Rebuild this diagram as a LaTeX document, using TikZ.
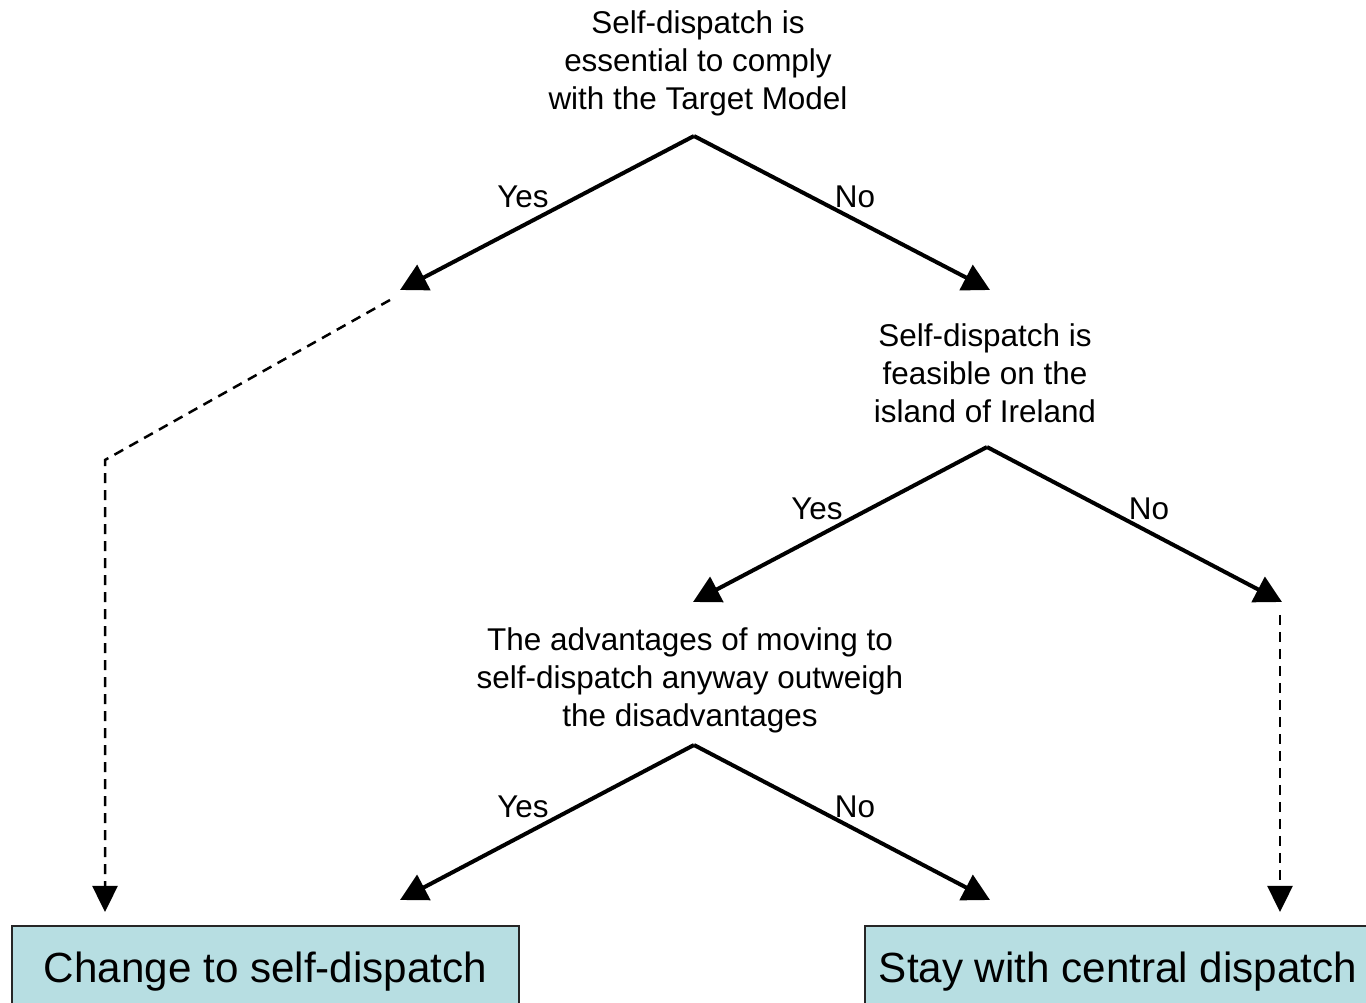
\documentclass[tikz,border=0pt]{standalone}
\usepackage{fontspec}
\setmainfont{Liberation Sans}
\usetikzlibrary{arrows.meta}
\definecolor{boxblue}{RGB}{183,222,226}
\begin{document}
\begin{tikzpicture}[every node/.style={font=\fontsize{17.9}{21.6}\selectfont},
  question/.style={align=center,inner sep=0pt},
  answer/.style={inner sep=0pt},
  outcome/.style={draw=black!85,line width=0.04cm,fill=boxblue,minimum width=10.14cm,minimum height=1.84cm,font=\fontsize{24}{28}\selectfont},
  branch/.style={line width=0.08cm,-{Triangle[length=0.54cm,width=0.56cm]}},
  skip/.style={line width=0.05cm,dash pattern=on 0.2cm off 0.14cm,-{Triangle[length=0.52cm,width=0.5cm]}}]
\path[use as bounding box,clip] (0,0) rectangle (27.32,20.06);
% questions
\node[question] (essential) at (13.96,18.80) {Self-dispatch is\\essential to comply\\with the Target Model};
\node[question] (feasible) at (19.70,12.60) {Self-dispatch is\\feasible on the\\island of Ireland};
\node[question] (advantages) at (13.80,6.46) {The advantages of moving to\\self-dispatch anyway outweigh\\the disadvantages};
% outcomes
\node[outcome] (change) at (5.31,0.62) {Change to self-dispatch};
\node[outcome] (stay) at (22.36,0.62) {Stay with central dispatch};
% forks and arrow ends
\coordinate (essfork) at (13.88,17.34);
\coordinate (essyes) at (8.00,14.26);
\coordinate (essno) at (19.80,14.26);
\coordinate (feasfork) at (19.74,11.12);
\coordinate (feasyes) at (13.86,8.02);
\coordinate (feasno) at (25.64,8.02);
\coordinate (advfork) at (13.88,5.16);
\coordinate (advyes) at (8.00,2.06);
\coordinate (advno) at (19.80,2.06);
\draw[branch] (essfork) -- (essyes);
\draw[branch] (essfork) -- (essno);
\draw[branch] (feasfork) -- (feasyes);
\draw[branch] (feasfork) -- (feasno);
\draw[branch] (advfork) -- (advyes);
\draw[branch] (advfork) -- (advno);
% answers
\node[answer] (essY) at (10.46,16.12) {Yes};
\node[answer] (essN) at (17.10,16.12) {No};
\node[answer] (feasY) at (16.34,9.88) {Yes};
\node[answer] (feasN) at (22.98,9.88) {No};
\node[answer] (advY) at (10.46,3.92) {Yes};
\node[answer] (advN) at (17.10,3.92) {No};
% dashed shortcuts
\coordinate (skipa) at (7.80,14.06);
\coordinate (skipbend) at (2.10,10.86);
\coordinate (skipaend) at (2.10,1.82);
\coordinate (skipb) at (25.60,7.76);
\coordinate (skipbend2) at (25.60,1.82);
\draw[skip] (skipa) -- (skipbend) -- (skipaend);
\draw[skip] (skipb) -- (skipbend2);
\end{tikzpicture}
\end{document}
